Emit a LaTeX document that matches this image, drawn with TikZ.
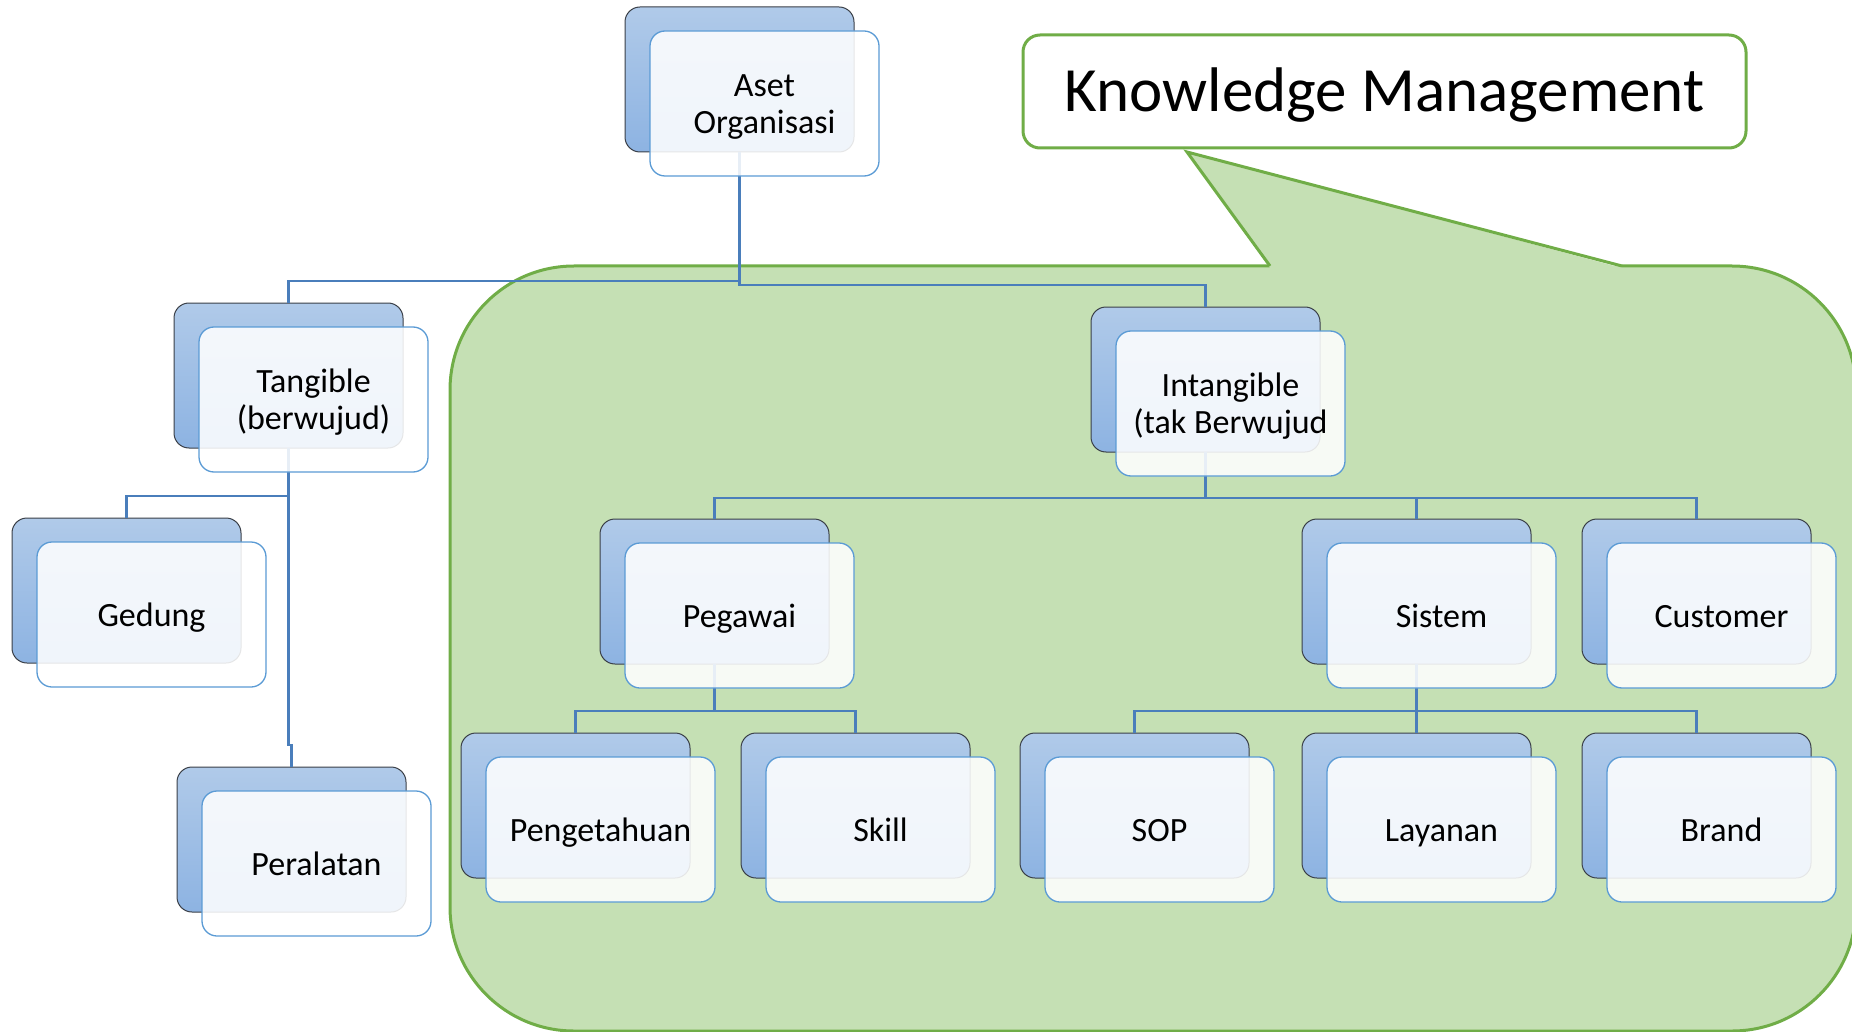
\documentclass[tikz,border=0pt]{standalone}
\usepackage{fontspec}
\setmainfont{Carlito}
\usetikzlibrary{calc}
\definecolor{kmgreen}{HTML}{70AD47}
\definecolor{kmfill}{HTML}{C5E0B4}
\definecolor{conn}{HTML}{4A7EBB}
\definecolor{backtop}{HTML}{B0CAE9}
\definecolor{backbot}{HTML}{8DB3E2}
\definecolor{backline}{HTML}{3A3F47}
\definecolor{frontline}{HTML}{5B9BD5}
\newcommand\lstrut{\rule[-5pt]{0pt}{34pt}}
\begin{document}
\begin{tikzpicture}[x=1pt,y=-1pt,
  backbox/.style={rectangle, rounded corners=15pt, minimum width=229pt, minimum height=145pt,
    inner sep=0pt, outer sep=0pt, top color=backtop, bottom color=backbot, draw=backline, line width=1pt, anchor=north west},
  frontbox/.style={rectangle, rounded corners=15pt, minimum width=229pt, minimum height=145pt,
    inner sep=0pt, outer sep=0pt, fill=white, fill opacity=0.87, text opacity=1, draw=frontline, draw opacity=1,
    line width=1.3pt, anchor=north west, align=center, font=\fontsize{34}{37}\selectfont},
  link/.style={draw=conn, line width=2.6pt},
  kmline/.style={draw=kmgreen, line width=3pt}]
\useasboundingbox (0,0) rectangle (1852,1032);
% green callout area
\fill[kmfill, rounded corners=124pt] (450,266) rectangle (1856,1031);
\draw[kmline, rounded corners=124pt] (1622,266) -- (1856,266) -- (1856,1031) -- (450,1031) -- (450,266) -- (1270,266);
\fill[kmfill] (1270,268) -- (1187,152) -- (1622,268) -- cycle;
\draw[kmline, line join=miter] (1270,266) -- (1187,152) -- (1622,266);
% title box
\node[kmline, fill=white, rounded corners=17pt, minimum width=723pt, minimum height=113pt, inner sep=0pt]
  (km) at (1384.5,91.5) {\fontsize{63}{70}\selectfont\raisebox{-4pt}[\height][\depth]{Knowledge Management}};
% back boxes
\foreach \n/\x/\y in {aset/625/7, tang/174/303, int/1091/307, ged/12/518, per/177/767,
  peg/600/519, sis/1302/519, cus/1582/519, pen/461/733, ski/741/733, sop/1020/733, lay/1302/733, bra/1582/733}
  \node[backbox] (\n b) at (\x,\y) {};
% connectors
\draw[link] (asetb.south) -- (asetb.south |- 0,281) -| (tangb.north);
\draw[link] (asetb.south) -- (asetb.south |- 0,285) -| (intb.north);
\draw[link] (tangb.south) -- (tangb.south |- 0,496) -| (gedb.north);
\draw[link] (tangb.south) -- (tangb.south |- 0,745) -- (perb.north |- 0,745) -- (perb.north);
\draw[link] (intb.south) -- (intb.south |- 0,498) -| (pegb.north);
\draw[link] (intb.south) -- (intb.south |- 0,498) -| (sisb.north);
\draw[link] (intb.south) -- (intb.south |- 0,498) -| (cusb.north);
\draw[link] (pegb.south) -- (pegb.south |- 0,711) -| (penb.north);
\draw[link] (pegb.south) -- (pegb.south |- 0,711) -| (skib.north);
\draw[link] (sisb.south) -- (sisb.south |- 0,711) -| (sopb.north);
\draw[link] (sisb.south) -- (sisb.south |- 0,711) -| (layb.north);
\draw[link] (sisb.south) -- (sisb.south |- 0,711) -| (brab.north);
% front boxes
\foreach \n/\t in {aset/{\lstrut Aset\\\lstrut Organisasi}, tang/{\lstrut Tangible\\\lstrut (berwujud)},
  int/{\lstrut Intangible\\\lstrut (tak Berwujud}, ged/{\lstrut Gedung}, per/{\lstrut Peralatan},
  peg/{\lstrut Pegawai}, sis/{\lstrut Sistem}, cus/{\lstrut Customer}, pen/{\lstrut Pengetahuan},
  ski/{\lstrut Skill}, sop/{\lstrut SOP}, lay/{\lstrut Layanan}, bra/{\lstrut Brand}}
  \node[frontbox] (\n) at ($(\n b.north west)+(25,24)$) {\t};
\end{tikzpicture}
\end{document}
